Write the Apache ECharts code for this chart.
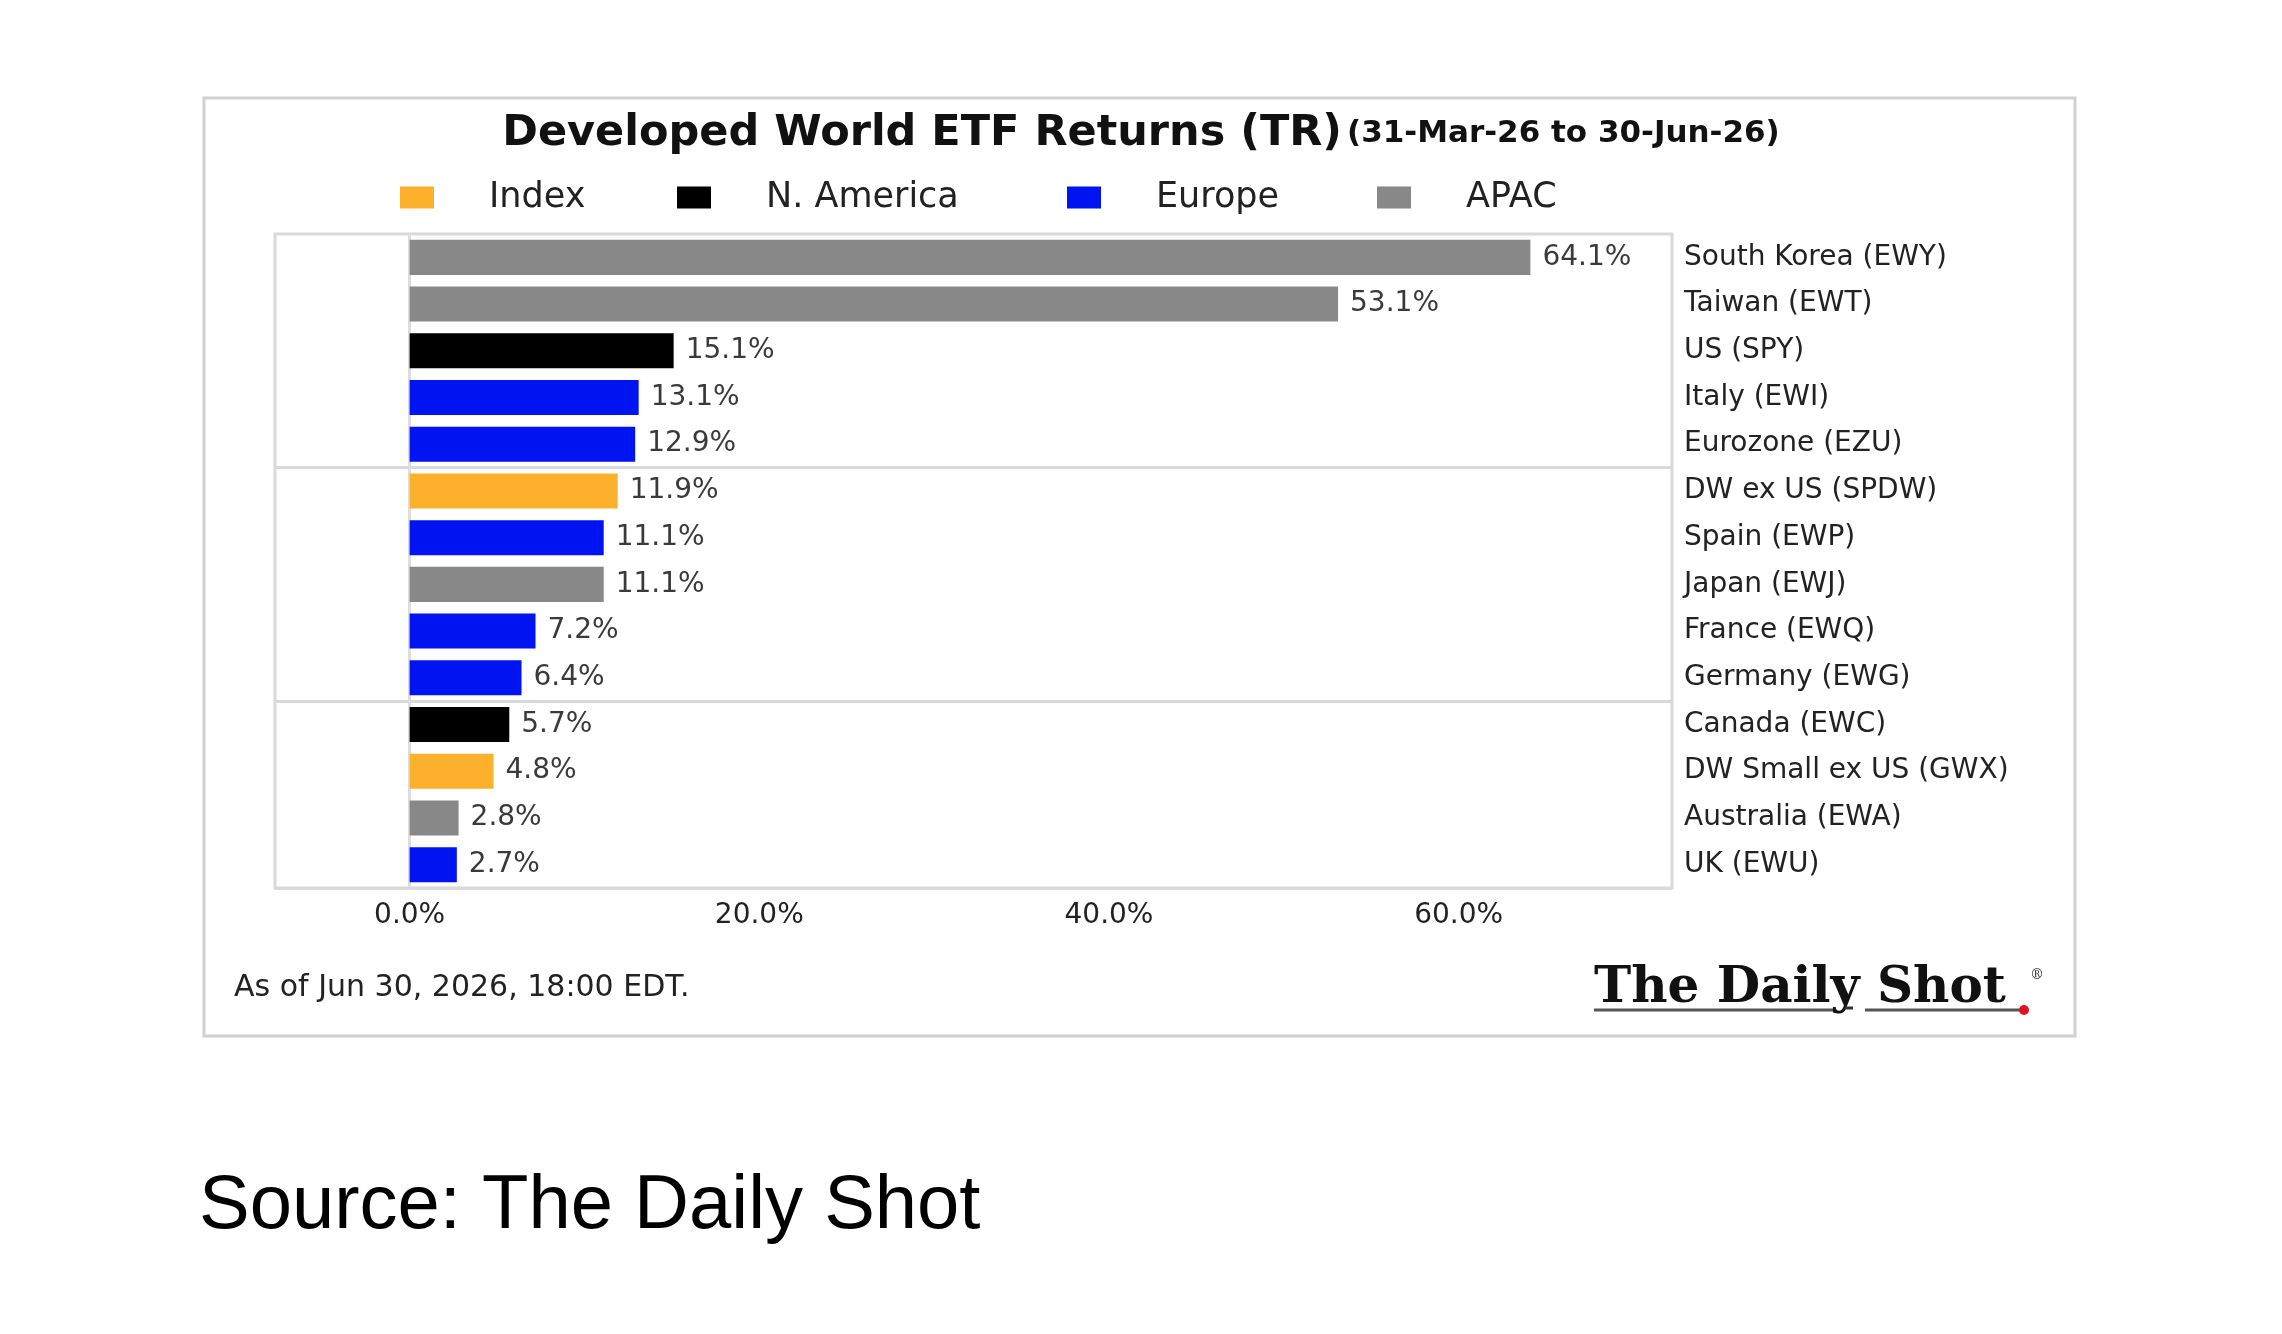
<!DOCTYPE html>
<html>
<head>
<meta charset="utf-8">
<script src="https://cdn.jsdelivr.net/npm/echarts@6/dist/echarts.min.js"></script>
<style>
  html, body { margin: 0; padding: 0; background: #fff; }
  #main { width: 2282px; height: 1334px; }
</style>
</head>
<body>
<div id="main"></div>
<script>
// categories top to bottom
var categories = ['South Korea (EWY)', 'Taiwan (EWT)', 'US (SPY)', 'Italy (EWI)', 'Eurozone (EZU)',
  'DW ex US (SPDW)', 'Spain (EWP)', 'Japan (EWJ)', 'France (EWQ)', 'Germany (EWG)',
  'Canada (EWC)', 'DW Small ex US (GWX)', 'Australia (EWA)', 'UK (EWU)'];
var returns = [64.1, 53.1, 15.1, 13.1, 12.9, 11.9, 11.1, 11.1, 7.2, 6.4, 5.7, 4.8, 2.8, 2.7];
var regionOf = ['APAC', 'APAC', 'N. America', 'Europe', 'Europe', 'Index', 'Europe', 'APAC', 'Europe', 'Europe',
  'N. America', 'Index', 'APAC', 'Europe'];
var regions = ['Index', 'N. America', 'Europe', 'APAC'];
var regionColors = ['#FDB02C', '#000000', '#0014F2', '#888888'];
var xTicks = [0, 20, 40, 60];

var FONT = 'DejaVu Sans';

var chart = echarts.init(document.getElementById('main'));

var series = regions.map(function (r, k) {
  var s = {
    name: r,
    type: 'bar',
    stack: 'all',
    barCategoryGap: '25%',
    itemStyle: { color: regionColors[k] },
    label: {
      show: true,
      position: 'right',
      distance: 12,
      fontFamily: FONT,
      fontSize: 28,
      color: '#3a3a3a',
      formatter: function (p) { return p.value.toFixed(1) + '%'; }
    },
    data: returns.map(function (v, i) { return regionOf[i] === r ? v : '-'; })
  };
  if (k === 0) {
    // light line at zero
    s.markLine = {
      silent: true,
      symbol: 'none',
      z: 1,
      label: { show: false },
      lineStyle: { color: '#dddddd', width: 3, type: 'solid' },
      data: [{ xAxis: 0 }]
    };
  }
  return s;
});

// one legend per item so each sits where the original puts it
var legendLeft = [400, 677, 1067, 1377];
var legends = regions.map(function (r, k) {
  return {
    left: legendLeft[k],
    top: 180,
    padding: 0,
    itemWidth: 34,
    itemHeight: 22,
    icon: 'rect',
    data: [r],
    textStyle: { fontFamily: FONT, fontSize: 35, color: '#222', padding: [0, 0, 0, 50] }
  };
});

var option = {
  backgroundColor: '#fff',
  animation: false,
  title: {
    text: '{a|Developed World ETF Returns (TR)} {b|(31-Mar-26 to 30-Jun-26)}',
    left: 'center',
    top: 112,
    padding: 0,
    textStyle: {
      rich: {
        a: { fontFamily: FONT, fontWeight: 'bold', fontSize: 43, color: '#111' },
        b: { fontFamily: FONT, fontWeight: 'bold', fontSize: 31, color: '#111' }
      }
    }
  },
  legend: legends,
  grid: {
    left: 275, top: 234, right: 610, bottom: 446,
    show: true,
    borderColor: '#d9d9d9',
    borderWidth: 3
  },
  xAxis: {
    type: 'value',
    min: -7.7,
    max: 72.2,
    axisLine: { show: false },
    axisTick: { show: false },
    splitLine: { show: false },
    axisLabel: {
      customValues: xTicks,
      margin: 14,
      fontFamily: FONT,
      fontSize: 28,
      color: '#222',
      formatter: function (v) { return v.toFixed(1) + '%'; }
    }
  },
  yAxis: {
    type: 'category',
    data: categories,
    inverse: true,
    position: 'right',
    axisLine: { show: false },
    axisTick: { show: false },
    axisLabel: { margin: 12, fontFamily: FONT, fontSize: 28, color: '#222', padding: [4, 0, 0, 0] },
    splitLine: {
      show: true,
      interval: function (i) { return i === 5 || i === 10; },
      lineStyle: { color: '#d9d9d9', width: 3 }
    }
  },
  graphic: [
    { type: 'rect', z: -1, shape: { x: 204, y: 98, width: 1871, height: 938 },
      style: { fill: 'none', stroke: '#d0d0d0', lineWidth: 3 } },
    { type: 'text', left: 234, top: 973,
      style: { text: 'As of Jun 30, 2026, 18:00 EDT.', fontFamily: FONT, fontSize: 30, fill: '#222' } },
    { type: 'text', left: 1594, top: 964,
      style: { text: 'The Daily Shot', fontFamily: 'DejaVu Serif', fontWeight: 'bold', fontSize: 50, fill: '#111' } },
    { type: 'text', left: 2030, top: 968,
      style: { text: '®', fontFamily: 'DejaVu Serif', fontSize: 14, fill: '#333' } },
    { type: 'line', shape: { x1: 1594, y1: 1010, x2: 1833, y2: 1010 }, style: { stroke: '#555', lineWidth: 3 } },
    { type: 'line', shape: { x1: 1845, y1: 1008, x2: 1853, y2: 1008 }, style: { stroke: '#333', lineWidth: 3 } },
    { type: 'line', shape: { x1: 1865, y1: 1010, x2: 2020, y2: 1010 }, style: { stroke: '#555', lineWidth: 3 } },
    { type: 'circle', shape: { cx: 2024, cy: 1010, r: 5 }, style: { fill: '#e0141e' } },
    { type: 'text', left: 199, top: 1169,
      style: { text: 'Source: The Daily Shot', fontFamily: 'Liberation Sans', fontSize: 76, fill: '#000' } }
  ],
  series: series
};

chart.setOption(option);
</script>
</body>
</html>
